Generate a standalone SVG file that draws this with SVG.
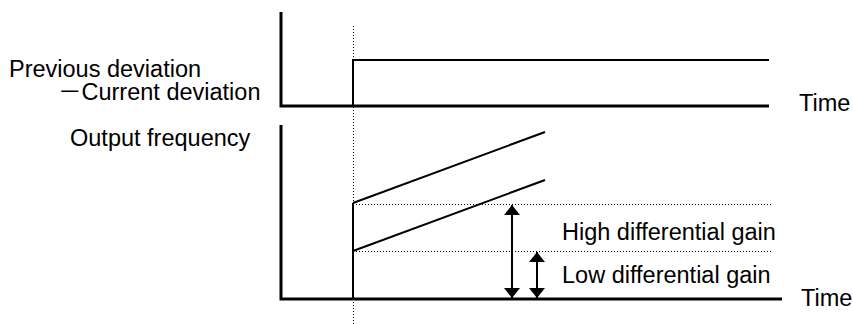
<svg xmlns="http://www.w3.org/2000/svg" width="853" height="324" viewBox="0 0 853 324">
  <defs>
    <marker id="head" viewBox="0 0 10 16" refX="10" refY="8" markerWidth="10" markerHeight="16" markerUnits="userSpaceOnUse" orient="auto-start-reverse">
      <path d="M0,0 L10,8 L0,16 Z" fill="#000"/>
    </marker>
  </defs>
  <style>
    text { font-family: "Liberation Sans", Arial, "Noto Sans CJK JP", sans-serif; font-size: 23.5px; fill: #000; }
    .axis { stroke: #000; stroke-width: 3; fill: none; }
    .trace { stroke: #000; stroke-width: 2; fill: none; }
    .dot { stroke: #000; stroke-width: 1; stroke-dasharray: 1 2; fill: none; }
    .gain { stroke: #000; stroke-width: 2; fill: none; marker-start: url(#head); marker-end: url(#head); }
  </style>

  <!-- labels -->
  <g id="label-deviation">
    <text x="9" y="77">Previous deviation</text>
    <text x="58" y="100">－Current deviation</text>
  </g>
  <g id="label-output">
    <text x="70" y="146">Output frequency</text>
  </g>

  <!-- upper chart: deviation step -->
  <g id="chart-deviation">
    <path class="axis" d="M281,12 V106 H769"/>
    <path class="trace" d="M353,106 V60 H769"/>
    <text x="799" y="111">Time</text>
  </g>

  <!-- lower chart: output frequency -->
  <g id="chart-output">
    <path class="axis" d="M281,125 V299 H782"/>
    <path class="trace" d="M353,299 V203"/>
    <path class="trace" d="M353,203 L545,132"/>
    <path class="trace" d="M353,251 L545,180"/>
    <text x="801" y="306">Time</text>
  </g>

  <g id="label-high">
    <text x="562" y="240">High differential gain</text>
  </g>
  <g id="label-low">
    <text x="562" y="283">Low differential gain</text>
  </g>

  <!-- reference lines and gain spans -->
  <g id="connectors">
    <path class="dot" d="M353.5,26 V324"/>
    <path class="dot" d="M353,204.5 H773"/>
    <path class="dot" d="M353,251.5 H773"/>
    <path class="gain" d="M512,205 V298"/>
    <path class="gain" d="M537,252 V298"/>
  </g>
</svg>
